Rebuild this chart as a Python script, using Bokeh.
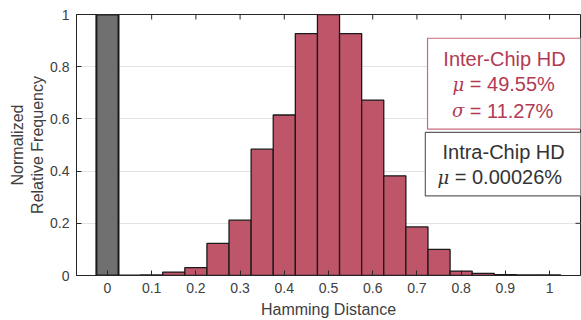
from bokeh.plotting import figure
from bokeh.models import ColumnDataSource, FixedTicker, CustomJSTickFormatter, Range1d
from bokeh.core.properties import value
from bokeh.embed import file_html
from bokeh.resources import INLINE

# ---- data ----
intra_centers = [0.0]
intra_freq = [1.0]
inter_centers = [0.05, 0.10, 0.15, 0.20, 0.25, 0.30, 0.35, 0.40, 0.45, 0.50,
                 0.55, 0.60, 0.65, 0.70, 0.75, 0.80, 0.85, 0.90, 0.95, 1.00]
inter_freq = [0.001, 0.002, 0.013, 0.030, 0.123, 0.212, 0.484, 0.615, 0.927, 1.000,
              0.927, 0.672, 0.382, 0.186, 0.100, 0.017, 0.008, 0.003, 0.002, 0.002]
bin_width = 0.05
x_ticks = [0, 0.1, 0.2, 0.3, 0.4, 0.5, 0.6, 0.7, 0.8, 0.9, 1.0]
x_tick_labels = ["0", "0.1", "0.2", "0.3", "0.4", "0.5", "0.6", "0.7", "0.8", "0.9", "1"]
y_ticks = [0, 0.2, 0.4, 0.6, 0.8, 1.0]
y_tick_labels = ["0", "0.2", "0.4", "0.6", "0.8", "1"]
inter_title = "Inter-Chip HD"
inter_mu = "49.55%"
inter_sigma = "11.27%"
intra_title = "Intra-Chip HD"
intra_mu = "0.00026%"

FONT = "Liberation Sans"
RED = "#bf5569"
GRAY = "#707070"
TXT = "#404040"
AX = "#262626"

X0, X1 = -0.07, 1.07
Y0, Y1 = 0.0, 1.0
FRAME_W, FRAME_H = 504, 261

p = figure(width=581, height=320, output_backend="svg", toolbar_location=None,
           x_range=Range1d(X0, X1), y_range=Range1d(Y0, Y1),
           min_border_left=76, min_border_right=1, min_border_top=14, min_border_bottom=45)
p.background_fill_color = "white"
p.border_fill_color = "white"
p.outline_line_color = AX
p.outline_line_width = 1

def fmt(labels, ticks):
    d = {str(float(t)): l for t, l in zip(ticks, labels)}
    return CustomJSTickFormatter(args=dict(d=d), code="""
        let k = String(Number(tick));
        if (!k.includes('.')) k = k + '.0';
        return (k in d) ? d[k] : tick.toString();
    """)

p.xaxis.ticker = FixedTicker(ticks=x_ticks)
p.xaxis.formatter = fmt(x_tick_labels, x_ticks)
p.yaxis.ticker = FixedTicker(ticks=y_ticks)
p.yaxis.formatter = fmt(y_tick_labels, y_ticks)

for ax in list(p.xaxis) + list(p.yaxis):
    ax.major_tick_in = 5
    ax.major_tick_out = 0
    ax.minor_tick_line_color = None
    ax.axis_line_color = AX
    ax.major_tick_line_color = AX
    ax.major_label_text_font = FONT
    ax.major_label_text_font_size = "14px"
    ax.major_label_text_color = TXT
    ax.axis_label_text_font = FONT
    ax.axis_label_text_font_size = "16px"
    ax.axis_label_text_color = TXT
    ax.axis_label_text_font_style = "normal"

p.xaxis.axis_label = "Hamming Distance"
p.yaxis.axis_label = "Normalized\nRelative Frequency"
p.xaxis.major_label_standoff = 7
p.yaxis.major_label_standoff = 7
p.xaxis.axis_label_standoff = 5
p.yaxis.axis_label_standoff = 1

p.xgrid.grid_line_color = None
p.ygrid.ticker = FixedTicker(ticks=y_ticks)
p.ygrid.grid_line_color = "#e3e3e3"

# mirrored inward ticks on top and right edges, derived from the tick lists
tick_dy = 5 * (Y1 - Y0) / FRAME_H
tick_dx = 5 * (X1 - X0) / FRAME_W
p.segment(x0=x_ticks, x1=x_ticks, y0=[Y1] * len(x_ticks), y1=[Y1 - tick_dy] * len(x_ticks),
          line_color=AX, line_width=1)
p.segment(x0=[X1] * len(y_ticks), x1=[X1 - tick_dx] * len(y_ticks), y0=y_ticks, y1=y_ticks,
          line_color=AX, line_width=1)

red_src = ColumnDataSource(dict(x=inter_centers, top=inter_freq))
gray_src = ColumnDataSource(dict(x=intra_centers, top=intra_freq))
p.vbar(x="x", top="top", bottom=0, width=bin_width, source=red_src,
       fill_color=RED, line_color="#1a1a1a", line_width=1.3)
p.vbar(x="x", top="top", bottom=0, width=bin_width, source=gray_src,
       fill_color=GRAY, line_color="#1a1a1a", line_width=2)

# annotation boxes
p.quad(left=[0.724], right=[1.2], top=[0.909], bottom=[0.5605],
       fill_color="white", line_color="#c96a7c", line_width=1.2)
p.quad(left=[0.719], right=[1.2], top=[0.548], bottom=[0.305],
       fill_color="white", line_color="#606060", line_width=1.2)

RTXT = "#b23a53"
DTXT = "#333333"
fs = "20px"
NB = "\u00a0"
p.text(x=[0.898], y=[0.831], text=[inter_title], text_align="center", text_baseline="middle",
       text_font=value(FONT), text_font_size=fs, text_color=RTXT)
p.text(x=[0.807, 0.807], y=[0.732, 0.632], text=["\u03bc", "\u03c3"], text_align="right",
       text_baseline="middle", text_font=value("DejaVu Serif"), text_font_style="italic",
       text_font_size="18px", text_color=RTXT)
p.text(x=[0.807, 0.807], y=[0.732, 0.632], text=[NB + "=" + NB + inter_mu, NB + "=" + NB + inter_sigma],
       text_align="left", text_baseline="middle", text_font=value(FONT), text_font_size=fs,
       text_color=RTXT)
p.text(x=[0.896], y=[0.475], text=[intra_title], text_align="center", text_baseline="middle",
       text_font=value(FONT), text_font_size=fs, text_color=DTXT)
p.text(x=[0.773], y=[0.377], text=["\u03bc"], text_align="right", text_baseline="middle",
       text_font=value("DejaVu Serif"), text_font_style="italic", text_font_size="18px",
       text_color=DTXT)
p.text(x=[0.773], y=[0.377], text=[NB + "=" + NB + intra_mu], text_align="left", text_baseline="middle",
       text_font=value(FONT), text_font_size=fs, text_color=DTXT)

open("out.html", "w").write(file_html(p, INLINE))
